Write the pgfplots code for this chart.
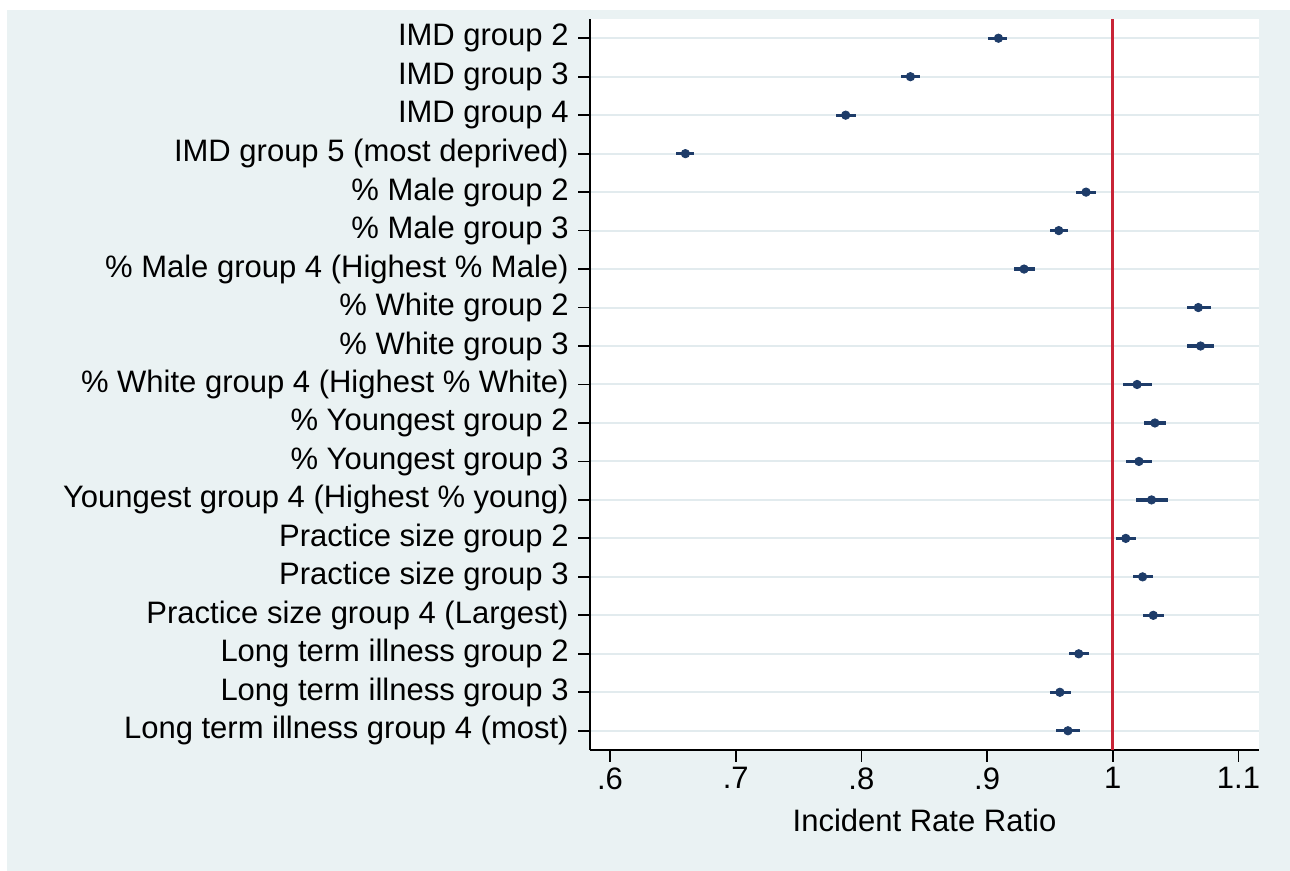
\documentclass[border=0pt]{standalone}
\usepackage{pgfplots}
\usepackage{pgfplotstable}
\pgfplotsset{compat=1.18}
\usepackage{fontspec}
\setmainfont{Liberation Sans}
\definecolor{bgc}{RGB}{234,242,243}
\definecolor{gridc}{RGB}{226,235,238}
\definecolor{navyc}{RGB}{30,60,105}
\definecolor{redc}{RGB}{200,36,54}

\pgfplotstableread{
row est lo hi
19 0.9090 0.9010 0.9160
18 0.8390 0.8315 0.8466
17 0.7875 0.7798 0.7957
16 0.6600 0.6527 0.6671
15 0.9787 0.9710 0.9863
14 0.9570 0.9497 0.9646
13 0.9294 0.9210 0.9380
12 1.0680 1.0587 1.0778
11 1.0698 1.0590 1.0807
10 1.0193 1.0079 1.0310
9  1.0335 1.0250 1.0423
8  1.0208 1.0107 1.0310
7  1.0308 1.0184 1.0438
6  1.0103 1.0025 1.0182
5  1.0237 1.0160 1.0322
4  1.0322 1.0240 1.0410
3  0.9729 0.9655 0.9814
2  0.9579 0.9500 0.9665
1  0.9643 0.9552 0.9738
}\irrdata

\begin{document}
\begin{tikzpicture}[x=1pt,y=1pt]
\useasboundingbox (0,0) rectangle (645,435.5);
\fill[white] (0,0) rectangle (645,435.5);
\fill[bgc] (3.5,0) rectangle (645,430.5);
\begin{axis}[
  at={(295pt,60.5pt)}, anchor=south west,
  scale only axis, width=334.5pt, height=365.5pt,
  xmin=0.5841, xmax=1.1163, ymin=0.5, ymax=19.5,
  axis x line*=bottom, axis y line*=left,
  axis line style={black, line width=0.9pt, -},
  axis background/.style={fill=white},
  tick align=outside, major tick length=6pt,
  tick style={black, line width=0.9pt},
  xtick={0.6,0.7,0.8,0.9,1,1.1},
  xticklabels={.6,.7,.8,.9,1,1.1},
  ytick={1,...,19},
  yticklabels={Long term illness group 4 (most),Long term illness group 3,Long term illness group 2,Practice size group 4 (Largest),Practice size group 3,Practice size group 2,Youngest group 4 (Highest \% young),\% Youngest group 3,\% Youngest group 2,\% White group 4 (Highest \% White),\% White group 3,\% White group 2,\% Male group 4 (Highest \% Male),\% Male group 3,\% Male group 2,IMD group 5 (most deprived),IMD group 4,IMD group 3,IMD group 2},
  ymajorgrids, major grid style={gridc, line width=1pt},
  tick label style={font=\fontsize{15.5}{18}\selectfont},
  yticklabel style={anchor=east, inner sep=0pt, xshift=-4.5pt},
  xticklabel style={anchor=north, inner sep=0pt, yshift=-2.5pt},
  xlabel={Incident Rate Ratio},
  xlabel style={font=\fontsize{15.5}{18}\selectfont, at={(axis description cs:0.5,0)}, anchor=center, yshift=-35pt},
  clip=false,
]
\addplot[draw=redc, line width=1.5pt] coordinates {(1,0.5) (1,19.5)};
\addplot[only marks, mark=*, mark size=2.1pt, color=navyc,
  error bars/.cd, x dir=both, x explicit, error mark=none,
  error bar style={line width=1.6pt, color=navyc}]
  table[x=est, y=row,
        x error plus expr=\thisrow{hi}-\thisrow{est},
        x error minus expr=\thisrow{est}-\thisrow{lo}] {\irrdata};
\end{axis}
\end{tikzpicture}
\end{document}
